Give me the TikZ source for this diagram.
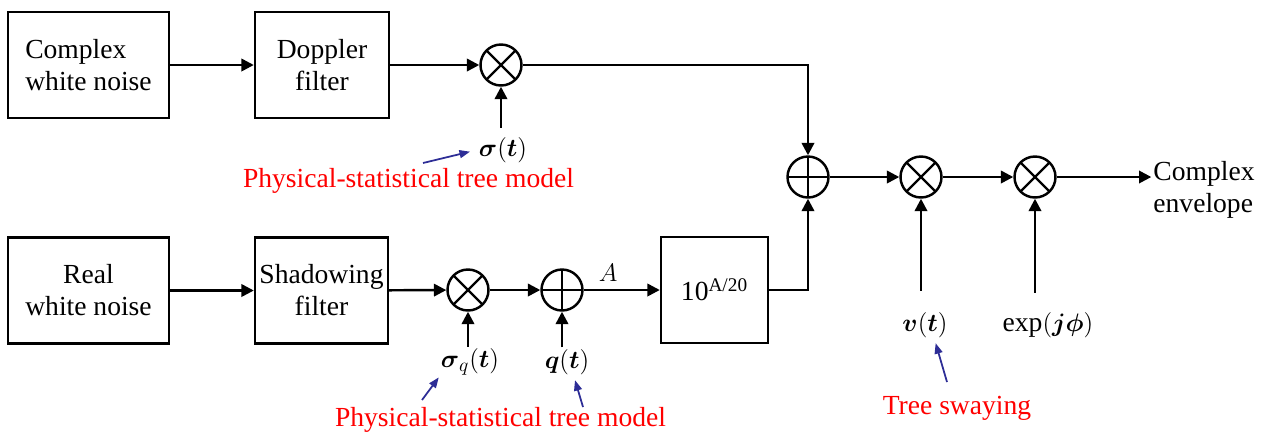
\documentclass[tikz,border=0pt]{standalone}
\usepackage{amsmath}
\usepackage{fontspec}
\setmainfont{Liberation Serif}
\definecolor{notered}{RGB}{255,0,0}
\definecolor{hintblue}{RGB}{45,45,150}
\usepackage{tikz}
\usetikzlibrary{
  arrows.meta,
  positioning,
  calc
}

\begin{document}
\begin{tikzpicture}[
    x=0.02cm, y=-0.02cm,
    block/.style={
      rectangle, draw, line width=1.4pt, inner sep=0pt,
      minimum height=2.12cm, align=center,
      font=\fontsize{15.7}{18.2}\selectfont
    },
    mult/.style={
      circle, draw, line width=1.4pt, minimum size=0.82cm, inner sep=0pt,
      path picture={
        \draw[line width=1.3pt]
          (path picture bounding box.north west) -- (path picture bounding box.south east)
          (path picture bounding box.north east) -- (path picture bounding box.south west);
      }
    },
    summ/.style={
      circle, draw, line width=1.4pt, minimum size=0.82cm, inner sep=0pt,
      path picture={
        \draw[line width=1.3pt]
          (path picture bounding box.north) -- (path picture bounding box.south)
          (path picture bounding box.west) -- (path picture bounding box.east);
      }
    },
    sig/.style={inner sep=1pt, font=\fontsize{15.7}{18.2}\selectfont},
    note/.style={inner sep=1pt, text=notered, font=\fontsize{15.7}{18.2}\selectfont},
    wire/.style={->, line width=1.4pt},
    hint/.style={-{Triangle[length=6pt,width=4.5pt]}, line width=1pt, draw=hintblue, fill=hintblue},
    >={Triangle[length=7pt,width=7pt]}
  ]
  \useasboundingbox (0,0) rectangle (1262,434);

  %% Upper branch
  \node[block, minimum width=3.22cm, align=left] (cwn) at (88.5,65)  {Complex\\white noise};
  \node[block, minimum width=2.68cm]             (dop) at (322,65)   {Doppler\\filter};
  \node[mult]                                    (m1)  at (501,65)   {};

  %% Lower branch
  \node[block, minimum width=3.22cm] (rwn) at (88.5,290.5)  {Real\\white noise};
  \node[block, minimum width=2.66cm] (shd) at (321.5,290.5) {Shadowing\\filter};
  \node[mult]                        (m2)  at (468,290)     {};
  \node[summ]                        (s2)  at (562,290)     {};
  \node[block, minimum width=2.14cm] (pw)  at (714.5,290)   {10\textsuperscript{A/20}};

  %% Combining chain
  \node[summ] (s1) at (808,177)  {};
  \node[mult] (m3) at (921,177)  {};
  \node[mult] (m4) at (1035,177) {};
  \node[sig, align=left] (out) at (1204,190) {Complex\\envelope};

  %% Signal labels
  \node[sig] (sg)  at (503,150)  {$\boldsymbol{\sigma}(\boldsymbol{t})$};
  \node[sig] (sgq) at (470,362)  {$\boldsymbol{\sigma}_{q}(\boldsymbol{t})$};
  \node[sig] (qt)  at (567,362)  {$\boldsymbol{q}(\boldsymbol{t})$};
  \node[sig] (vt)  at (925,325)  {$\boldsymbol{v}(\boldsymbol{t})$};
  \node[sig] (ex)  at (1048,325) {$\exp(\boldsymbol{j\phi})$};

  %% Red notes
  \node[note] (n1) at (408.5,181) {Physical-statistical tree model};
  \node[note] (n2) at (500.5,420) {Physical-statistical tree model};
  \node[note] (n3) at (957,408)   {Tree swaying};

  \coordinate (t1) at (423,163);
  \coordinate (t2) at (422,400);
  \coordinate (t3) at (583,407);
  \coordinate (t4) at (947,382);

  \draw[wire] (cwn) -- (dop);
  \draw[wire] (dop) -- (m1);
  \draw[wire] (m1) -| (s1);
  \draw[wire] (rwn) -- (shd);
  \draw[wire] (shd) -- (m2);
  \draw[wire] (m2) -- (s2);
  \draw[wire] (s2) -- node[sig, pos=0.32, above, inner sep=4pt] (alab) {$A$} (pw);
  \draw[wire] (pw) -| (s1);
  \draw[wire] (s1) -- (m3);
  \draw[wire] (m3) -- (m4);
  \draw[wire] (m4) -- (m4 -| out.west);

  \draw[wire] ([yshift=4.2pt]m1 |- sg.north) -- (m1);
  \draw[wire] (m2 |- sgq.north) -- (m2);
  \draw[wire] (s2 |- qt.north) -- (s2);
  \draw[wire] ([yshift=11pt]m3 |- vt.north) -- (m3);
  \draw[wire] ([yshift=10pt]m4 |- ex.north) -- (m4);

  \draw[hint, shorten >=4pt] (t1) -- (sg.west);
  \draw[hint] (t2) -- (sgq.south west);
  \draw[hint, shorten >=2pt] (t3) -- ([xshift=4pt]qt.south);
  \draw[hint, shorten >=2pt] (t4) -- ([xshift=5.5pt]vt.south);

\end{tikzpicture}
\end{document}
